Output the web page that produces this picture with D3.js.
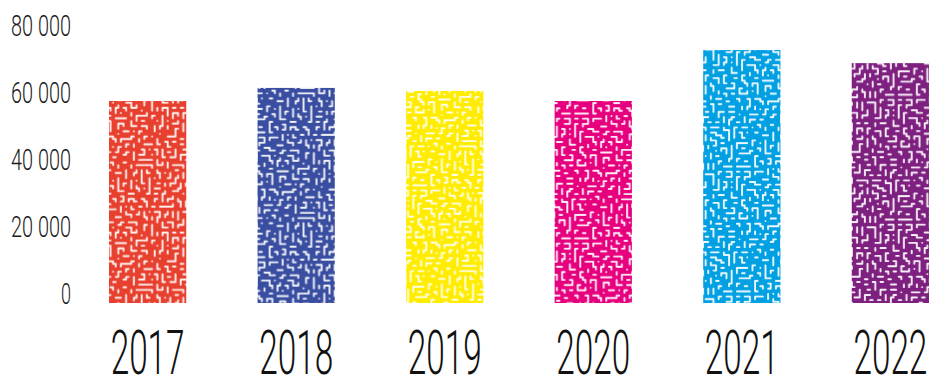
<!DOCTYPE html>
<html><head><meta charset="utf-8">
<script src="https://cdn.jsdelivr.net/npm/d3@7"></script>
<style>html,body{margin:0;padding:0;background:#fff;}svg{display:block;}</style>
</head><body>
<svg id="chart" width="929" height="378"></svg>
<script>
const categories = ["2017","2018","2019","2020","2021","2022"];
const values = [60300, 64200, 63300, 60300, 75500, 71600];
const colors = ["#e8402e","#3a4ea1","#ffec00","#e6007e","#00a0e2","#7e2080"];
const yTicks = [0, 20000, 40000, 60000, 80000];
const yTickLabels = ["0","20 000","40 000","60 000","80 000"];

const svg = d3.select("#chart");
const x = d3.scaleBand().domain(categories).range([109, 929]).paddingInner(0.48).paddingOuter(0);
const y = d3.scaleLinear().domain([0, 80000]).range([303, 35]);

// deterministic "Turing-like" worm texture (decoration only)
const defs = svg.append("defs");
let seed = 98765;
function rnd(){ seed = (seed * 1103515245 + 12345) & 0x7fffffff; return seed / 0x7fffffff; }
const cell = 2.6, N = 48, tile = cell * N;
const owner = new Int32Array(N*N).fill(-1);
const wrap = v => ((v % N) + N) % N;
const near = (a, b) => Math.abs(((a - b) % N + N + N/2) % N - N/2) <= 1;
function okCell(nx, ny, id) {
  if (owner[wrap(ny)*N+wrap(nx)] !== -1) return false;
  for (let ax=-1; ax<=1; ax++) for (let ay=-1; ay<=1; ay++) {
    const o = owner[wrap(ny+ay)*N + wrap(nx+ax)];
    if (o !== -1 && o !== id) return false;
  }
  return true;
}
const worms = [];
for (let attempt = 0; attempt < 15000; attempt++) {
  const id = worms.length;
  let cx = Math.floor(rnd()*N), cy = Math.floor(rnd()*N);
  if (!okCell(cx, cy, id)) continue;
  const pts = [[cx, cy]];
  owner[wrap(cy)*N+wrap(cx)] = id;
  const L = 1 + Math.floor(rnd()*7);
  let dir = Math.floor(rnd()*4);
  for (let s = 0; s < L; s++) {
    const opts = [];
    for (let d = 0; d < 4; d++) {
      if (d === (dir+2)%4) continue;
      const nx = cx + [1,0,-1,0][d], ny = cy + [0,1,0,-1][d];
      let ok = okCell(nx, ny, id);
      if (ok) {
        for (let q = 0; q < pts.length-2; q++) {
          if (near(pts[q][0], nx) && near(pts[q][1], ny)) { ok = false; break; }
        }
      }
      if (ok) opts.push(d);
    }
    if (!opts.length) break;
    dir = (opts.includes(dir) && rnd() < 0.35) ? dir : opts[Math.floor(rnd()*opts.length)];
    cx += [1,0,-1,0][dir]; cy += [0,1,0,-1][dir];
    owner[wrap(cy)*N+wrap(cx)] = id;
    pts.push([cx, cy]);
  }
  worms.push(pts);
}
let pathD = "";
worms.forEach(pts => {
  if (pts.length === 1) pts = [pts[0], [pts[0][0]+0.01, pts[0][1]]];
  pathD += pts.map((p,i) => (i? "L":"M") + (p[0]*cell+cell/2).toFixed(2) + "," + (p[1]*cell+cell/2).toFixed(2)).join("");
});
colors.forEach((c, i) => {
  const p = defs.append("pattern").attr("id", "pat"+i)
    .attr("patternUnits","userSpaceOnUse").attr("width", tile).attr("height", tile)
    .attr("x", i*37).attr("y", i*53);
  p.append("rect").attr("width", tile).attr("height", tile).attr("fill", c);
  [[0,0],[-tile,0],[tile,0],[0,-tile],[0,tile],[-tile,-tile],[tile,tile],[-tile,tile],[tile,-tile]].forEach(([dx,dy]) => {
    p.append("path").attr("d", pathD).attr("transform", `translate(${dx},${dy})`)
      .attr("fill","none").attr("stroke","#fff").attr("stroke-width",1.9)
      .attr("stroke-linecap","round").attr("stroke-linejoin","round").attr("opacity",0.93);
  });
});

svg.append("g").selectAll("rect").data(categories).join("rect")
  .attr("x", d => x(d))
  .attr("y", (d,i) => y(values[i]))
  .attr("width", x.bandwidth())
  .attr("height", (d,i) => y(0) - y(values[i]))
  .attr("fill", (d,i) => `url(#pat${i})`);

function squeeze(sel, widthFn) {
  sel.each(function(d, i) {
    const w = this.getComputedTextLength();
    const sx = widthFn(d, i) / w;
    d3.select(this).attr("transform", `scale(${sx},1)`);
  });
}

// y axis
const yAxis = d3.axisLeft(y).tickValues(yTicks).tickFormat((d,i) => yTickLabels[i]).tickSize(0).tickPadding(0);
const gy = svg.append("g").attr("transform","translate(71,0)").call(yAxis);
gy.select(".domain").remove();
gy.selectAll("text")
  .attr("dy", 0).attr("x", 0)
  .attr("font-family","'Roboto', sans-serif").attr("font-weight",300)
  .attr("font-size", 30).attr("fill","#1a1a1a")
  .call(squeeze, (d,i) => yTickLabels[i].length === 1 ? 10 : 60);

// x axis
const xAxis = d3.axisBottom(x).tickSize(0).tickPadding(0);
const gx = svg.append("g").attr("transform","translate(0,374)").call(xAxis);
gx.select(".domain").remove();
gx.selectAll("text")
  .attr("y", 0).attr("dy", 0)
  .attr("font-family","'Roboto', sans-serif").attr("font-weight",300)
  .attr("font-size", 61).attr("fill","#111")
  .call(squeeze, () => 74);
</script>
</body></html>
